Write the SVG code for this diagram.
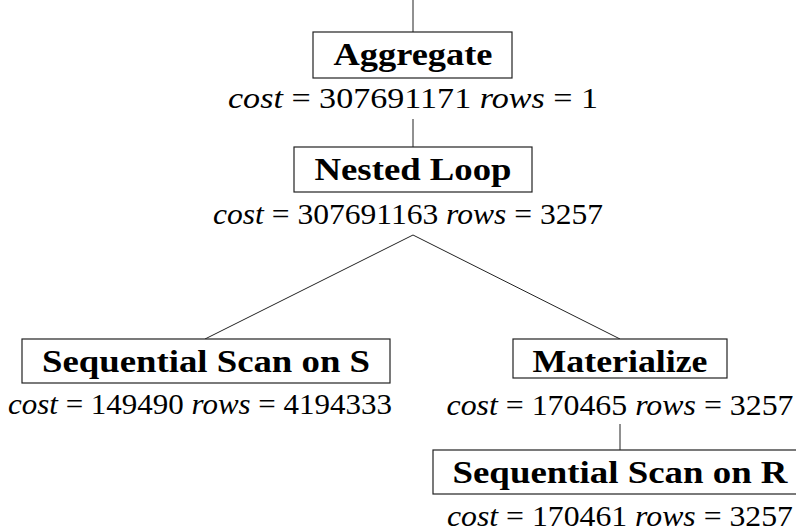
<svg xmlns="http://www.w3.org/2000/svg" width="796" height="531" viewBox="0 0 796 531">
<style>
.box{fill:#fff;stroke:#222;stroke-width:1.2}
.edge{stroke:#222;stroke-width:1;fill:none}
.t{font-family:"Liberation Serif",serif;font-weight:bold;font-size:31px;fill:#000;text-anchor:middle}
.m{font-family:"Liberation Serif",serif;font-size:30px;fill:#000;text-anchor:middle}
.i{font-style:italic}
</style>
<rect width="796" height="531" fill="#fff"/>
<g id="connectors">
<line class="edge" x1="413" y1="0" x2="413" y2="32"/>
<line class="edge" x1="413" y1="119" x2="413" y2="147"/>
<line class="edge" x1="413" y1="235" x2="205" y2="339"/>
<line class="edge" x1="413" y1="235" x2="620" y2="339"/>
<line class="edge" x1="620" y1="424" x2="620" y2="450"/>
</g>
<g id="aggregate">
<rect class="box" x="313" y="32" width="199" height="46"/>
<text class="t" x="413" y="65" textLength="159" lengthAdjust="spacingAndGlyphs">Aggregate</text>
<text class="m" x="413" y="108" textLength="370" lengthAdjust="spacingAndGlyphs"><tspan class="i">cost</tspan> = 307691171 <tspan class="i">rows</tspan> = 1</text>
</g>
<g id="nested-loop">
<rect class="box" x="294" y="147" width="238" height="45"/>
<text class="t" x="413" y="180" textLength="197" lengthAdjust="spacingAndGlyphs">Nested Loop</text>
<text class="m" x="408" y="224" textLength="390" lengthAdjust="spacingAndGlyphs"><tspan class="i">cost</tspan> = 307691163 <tspan class="i">rows</tspan> = 3257</text>
</g>
<g id="seqscan-s">
<rect class="box" x="22" y="339" width="368" height="44"/>
<text class="t" x="206" y="372" textLength="328" lengthAdjust="spacingAndGlyphs">Sequential Scan on S</text>
<text class="m" x="200" y="414" textLength="384" lengthAdjust="spacingAndGlyphs"><tspan class="i">cost</tspan> = 149490 <tspan class="i">rows</tspan> = 4194333</text>
</g>
<g id="materialize">
<rect class="box" x="513" y="339" width="214" height="39"/>
<text class="t" x="620" y="372" textLength="175" lengthAdjust="spacingAndGlyphs">Materialize</text>
<text class="m" x="620" y="415" textLength="347" lengthAdjust="spacingAndGlyphs"><tspan class="i">cost</tspan> = 170465 <tspan class="i">rows</tspan> = 3257</text>
</g>
<g id="seqscan-r">
<rect class="box" x="433" y="450" width="373" height="44"/>
<text class="t" x="620" y="483" textLength="335" lengthAdjust="spacingAndGlyphs">Sequential Scan on R</text>
<text class="m" x="620" y="526" textLength="346" lengthAdjust="spacingAndGlyphs"><tspan class="i">cost</tspan> = 170461 <tspan class="i">rows</tspan> = 3257</text>
</g>
</svg>
